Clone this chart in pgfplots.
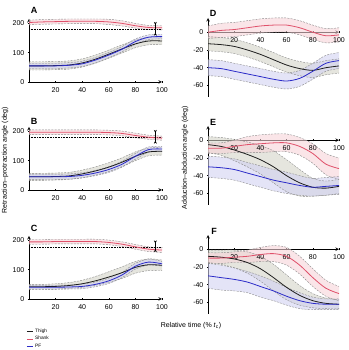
\documentclass[border=0pt]{standalone}
\usepackage{fontspec}
\setmainfont{Liberation Sans}
\usepackage{pgfplots}
\pgfplotsset{compat=1.18}
\usepackage{pgfplotstable}
\usepgfplotslibrary{fillbetween}
\usetikzlibrary{arrows.meta}

\definecolor{thighc}{HTML}{1E1E1E}
\definecolor{shankc}{HTML}{E0506A}
\definecolor{pfc}{HTML}{2B2BC8}
\definecolor{thighf}{HTML}{D4D4C8}
\definecolor{shankf}{HTML}{F6D3D8}
\definecolor{pff}{HTML}{D2D2F2}
\definecolor{bandc}{HTML}{8A8A8A}

% t: relative time; T/S/P = thigh, shank, PF; m = mean, s = half-width of band
\pgfplotstableread{
t   Tm   Ts  Sm   Ss  Pm   Ps
0   55   14  203  8   55   9
10  55   14  205  8   55   9
20  56   14  206  8   55   9
30  58   14  207  8   57   9
40  65   14  207  8   62   9
50  78   14  207  8   75   9
60  95   14  205  9   92   9
70  113  14  200  9   112  9
80  130  13  192  8   138  9
90  140  13  186  7   153  8
100 140  13  185  7   155  8
}\rpA
\pgfplotstableread{
t   Tm   Ts  Sm   Ss  Pm   Ps
0   45   12  197  8   45   9
10  45   12  197  8   45   9
20  46   12  197  8   45   9
30  48   12  197  8   46   9
40  55   13  197  8   50   9
50  65   14  197  8   58   9
60  78   15  196  8   70   10
70  95   15  193  8   88   10
80  115  15  186  8   115  10
90  130  13  180  7   138  9
100 132  13  177  7   140  9
}\rpB
\pgfplotstableread{
t   Tm   Ts  Sm   Ss  Pm   Ps
0   42   8   195  8   40   7
10  42   8   195  8   40   7
20  43   9   196  8   40   7
30  46   10  196  8   41   7
40  52   12  196  8   43   8
50  62   15  196  8   50   8
60  75   18  193  8   62   9
70  90   20  187  8   82   9
80  108  20  178  8   112  10
90  117  20  170  8   126  10
100 115  18  167  8   120  8
}\rpC
\pgfplotstableread{
t   Tm   Ts  Sm   Ss  Pm   Ps
0   -13  8   0    7   -40  9
10  -14  8   2    8   -41  9
20  -16  8   3    8   -44  9
30  -20  8   5    8   -47  9
40  -25  8   7    8   -50  9
50  -31  8   8    8   -53  9
60  -37  8   8    8   -55  9
70  -41  8   5    8   -52  9
80  -43  8   0    8   -44  9
90  -40  8   -4   8   -35  9
100 -38  8   -3   8   -32  9
}\aaD
\pgfplotstableread{
t   Tm   Ts  Sm   Ss  Pm   Ps
0   -5   9   -9   6   -30  12
10  -7   10  -9   6   -31  12
20  -11  12  -7   7   -33  12
30  -16  14  -5   9   -37  12
40  -22  16  -4   10  -41  12
50  -30  18  -3   10  -45  12
60  -40  18  -3   10  -48  12
70  -48  15  -7   10  -51  11
80  -53  10  -15  11  -53  10
90  -54  8   -27  12  -52  10
100 -52  8   -32  12  -51  10
}\aaE
\pgfplotstableread{
t   Tm   Ts  Sm   Ss  Pm   Ps
0   -8   7   -10  6   -30  14
10  -9   8   -10  6   -32  14
20  -11  10  -9   6   -34  13
30  -15  12  -8   7   -37  12
40  -22  14  -6   8   -42  12
50  -32  15  -5   9   -47  11
60  -43  14  -8   10  -53  10
70  -52  11  -18  10  -58  9
80  -58  8   -32  10  -61  7
90  -61  6   -44  9   -62  6
100 -62  5   -50  8   -62  6
}\aaF

% shaded band (mean +/- half-width) with dashed edges
\newcommand{\band}[5]{%
  \addplot[draw=none, smooth, name path=u#5, forget plot]
    table[x=t, y expr=\thisrow{#2}+\thisrow{#3}] {#1};
  \addplot[draw=none, smooth, name path=l#5, forget plot]
    table[x=t, y expr=\thisrow{#2}-\thisrow{#3}] {#1};
  \addplot[fill=#4, fill opacity=0.6, draw=none, forget plot] fill between[of=u#5 and l#5];
  \addplot[bandc, line width=0.4pt, dash pattern=on 2pt off 1.2pt, smooth, forget plot]
    table[x=t, y expr=\thisrow{#2}+\thisrow{#3}] {#1};
  \addplot[bandc, line width=0.4pt, dash pattern=on 2pt off 1.2pt, smooth, forget plot]
    table[x=t, y expr=\thisrow{#2}-\thisrow{#3}] {#1};
}
\newcommand{\allbands}[1]{%
  \band{#1}{Tm}{Ts}{thighf}{T}
  \band{#1}{Sm}{Ss}{shankf}{S}
  \band{#1}{Pm}{Ps}{pff}{P}
}
\newcommand{\meanlines}[1]{%
  \addplot[thighc, line width=0.8pt, smooth] table[x=t, y=Tm] {#1};
  \addplot[shankc, line width=0.8pt, smooth] table[x=t, y=Sm] {#1};
  \addplot[pfc, line width=0.8pt, smooth] table[x=t, y=Pm] {#1};
}

\pgfplotsset{
  base/.style={
    scale only axis, xmin=0, xmax=100, xtick={20,40,60,80,100},
    axis line style={-, line width=0.6pt},
    tick style={black, line width=0.5pt}, major tick length=2.2pt,
    /pgf/number format/assume math mode=true,
    tick label style={font=\fontsize{7}{8}\selectfont},
    xticklabel style={yshift=-1pt},
    legend style={font=\fontsize{4.8}{5.5}\selectfont, draw=none, fill=none,
      row sep=-1.5pt, inner sep=0pt},
  },
  leftp/.style={base, width=133pt, height=63pt, ymin=0, ymax=215,
    ytick={0,100,200}, axis lines=left},
  rightp/.style={base, width=131pt, height=79pt, ymin=-73, ymax=16,
    ytick={-60,-40,-20,0}, axis y line=left, axis x line=middle,
    hide obscured y ticks=false},
}

\begin{document}
\begin{tikzpicture}[x=1pt, y=1pt]

% ---- retraction-protraction (left column) ----
\begin{axis}[leftp, at={(29pt,268pt)}]
  \allbands{\rpA}
  \addplot[black, densely dotted, line width=0.6pt, forget plot] coordinates {(0,180) (100,180)};
  \meanlines{\rpA}
  \addplot[black, line width=0.8pt, {Stealth[reversed, length=3pt, width=3pt]}-{Stealth[reversed, length=3pt, width=3pt]}, forget plot]
    coordinates {(95,205) (95,158)};
\end{axis}
\begin{axis}[leftp, at={(29pt,160pt)}]
  \allbands{\rpB}
  \addplot[black, densely dotted, line width=0.6pt, forget plot] coordinates {(0,180) (100,180)};
  \meanlines{\rpB}
  \addplot[black, line width=0.8pt, {Stealth[reversed, length=3pt, width=3pt]}-{Stealth[reversed, length=3pt, width=3pt]}, forget plot]
    coordinates {(95,205) (95,158)};
\end{axis}
\begin{axis}[leftp, at={(29pt,51pt)},
    legend style={at={(-0.02,-0.44)}, anchor=north west},
    legend cell align=left,
    legend image code/.code={\draw[#1, line width=0.6pt] (0pt,0pt) -- (6pt,0pt);}]
  \allbands{\rpC}
  \addplot[black, densely dotted, line width=0.6pt, forget plot] coordinates {(0,178) (100,178)};
  \meanlines{\rpC}
  \addplot[black, line width=0.8pt, {Stealth[reversed, length=3pt, width=3pt]}-{Stealth[reversed, length=3pt, width=3pt]}, forget plot]
    coordinates {(95,200) (95,160)};
  \legend{Thigh, Shank, PF}
\end{axis}

% ---- adduction-abduction (right column) ----
\begin{axis}[rightp, at={(208pt,253pt)}]
  \allbands{\aaD}
  \meanlines{\aaD}
\end{axis}
\begin{axis}[rightp, at={(208pt,145pt)}]
  \allbands{\aaE}
  \meanlines{\aaE}
\end{axis}
\begin{axis}[rightp, at={(208pt,36pt)}]
  \allbands{\aaF}
  \meanlines{\aaF}
\end{axis}

% panel letters and shared labels
\begin{scope}[font=\fontsize{9}{10}\selectfont\bfseries]
  \node at (34pt,340pt) {A};
  \node at (34pt,229pt) {B};
  \node at (34pt,122pt) {C};
  \node at (213pt,337pt) {D};
  \node at (213pt,228pt) {E};
  \node at (214pt,119pt) {F};
\end{scope}
\node[rotate=90, font=\fontsize{7}{8}\selectfont] at (5pt,190pt) {Retraction–protraction angle (deg)};
\node[rotate=90, font=\fontsize{7}{8}\selectfont] at (185pt,192pt) {Adduction–abduction angle (deg)};
\node[font=\fontsize{7}{8}\selectfont] at (191pt,24pt) {Relative time (\% \textit{t}\textsubscript{c})};

\pgfresetboundingbox
\useasboundingbox (0pt,0pt) rectangle (348pt,350pt);
\end{tikzpicture}
\end{document}
